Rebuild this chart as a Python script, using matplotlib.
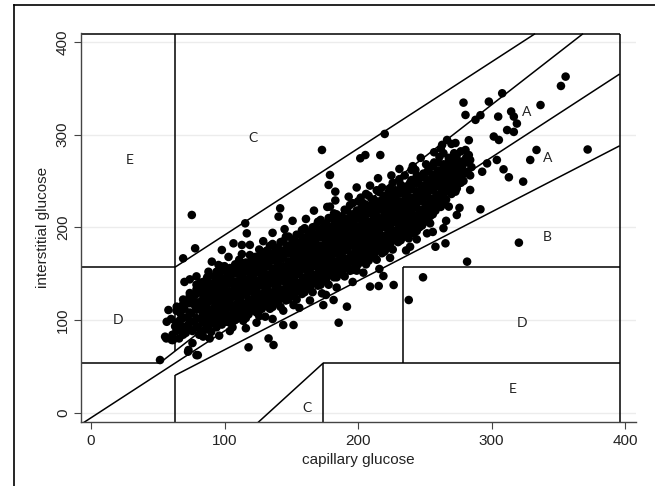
import matplotlib
matplotlib.use("Agg")
import matplotlib.pyplot as plt
from matplotlib.lines import Line2D

# ---------------- data ----------------
x_ticks = [0, 100, 200, 300, 400]
y_ticks = [0, 100, 200, 300, 400]
x_label = "capillary glucose"
y_label = "interstitial glucose"

# scattered points (capillary, interstitial)
outer_cap = [75.5, 173, 220, 279, 280.5, 298, 308, 291.7, 288, 305, 314.7, 316.7, 319, 311.7, 316.7,
             301.7, 305.5, 336.7, 355.5, 352, 333.7, 329, 323.7, 320.5, 281.7, 291.7, 313, 309, 304,
             296.7, 293, 284, 283, 280.5, 266.7, 284, 273, 268, 274, 264, 265.5, 258, 248.7, 238,
             226.7, 215.5, 209, 219, 199, 191.7, 185.5, 254, 251.7, 239, 241.7, 216.7, 201.7, 205.5,
             179, 178, 183, 179, 141.7, 140.5, 115.5, 116.7, 106.7, 113, 98, 78, 69, 90.5, 95.5, 74,
             81.7, 88, 58, 56.7, 55.5, 60.5, 51.7, 73, 79, 118, 133, 136.7, 144, 151.7, 151.7, 174,
             173, 181.7, 130.5, 64.2, 74, 66.7, 56.4, 61.4, 72.7, 80, 88.9, 372, 240, 262, 270]
outer_int = [213.3, 283.5, 300.8, 334.6, 321.3, 335.7, 344.7, 321, 316, 319.5, 325, 319.5, 312, 305, 303,
             298, 294.3, 332, 362.7, 352.6, 283.5, 272.7, 249.3, 183.4, 162.9, 219.4, 254, 262.6, 272.7,
             269, 260, 272.7, 294, 283.5, 294.3, 240.3, 238.5, 222.3, 213.3, 199, 182.7, 179, 146, 121.5,
             137.7, 136.6, 136, 147.4, 153.2, 114.3, 97, 204.3, 193.5, 179, 193.5, 278, 274.5, 278,
             256.5, 245.7, 238.5, 222.3, 220.5, 211.5, 204.3, 193.5, 182.7, 180.9, 175.5, 177.3, 166.5,
             162.9, 159.3, 143.8, 140.2, 140.2, 110.7, 98, 81.9, 78.3, 56.7, 67.5, 62, 70.4, 80, 72.9,
             94.5, 94.5, 116, 116, 128.7, 121.5, 103.5, 114.3, 121.5, 99.9, 80, 78.3, 65.7, 62, 80,
             284, 262, 285, 290]

# edge of the dense band (capillary, interstitial)
edge_cap = [70, 79, 88, 97, 103, 113, 119, 129, 136, 145, 151, 161, 167, 177, 183, 193, 199, 209, 215,
            225, 231, 241, 247, 257, 263, 273,
            76, 84, 96, 104, 116, 124, 136, 144, 156, 164, 176, 184, 196, 204, 216, 224, 236, 244,
            256, 266, 276]
edge_int = [141, 147, 152, 158, 168, 171, 181, 185, 194, 198, 207, 209, 218, 222, 229, 233, 243, 245,
            253, 256, 263, 266, 275, 281, 289, 291,
            75, 82, 83, 88, 91, 97, 101, 110, 113, 121, 127, 135, 141, 151, 155, 167, 175, 187,
            195, 207, 221]

# dense core of the cloud, first layer (capillary, interstitial)
core_cap = [61, 63, 60, 66, 68, 65, 67, 69, 71, 73, 72, 70, 74, 76, 77, 75, 78, 76, 79,
            81, 80, 82, 83, 81, 84, 82, 86, 85, 87, 86, 88, 85, 87, 90, 89, 91, 92, 90, 89, 91,
            94, 93, 95, 94, 96, 93, 95, 94, 98, 97, 99, 98, 96, 99, 97,
            102, 101, 103, 100, 102, 101, 103, 100, 106, 105, 107, 104, 106, 108, 105, 107,
            110, 109, 111, 108, 110, 112, 109, 111, 114, 113, 115, 112, 114, 116, 113, 115,
            118, 117, 119, 116, 118, 120, 117, 119, 122, 121, 123, 120, 122, 124, 121, 123,
            126, 125, 127, 124, 126, 128, 125, 127, 126, 130, 129, 131, 128, 130, 132, 129, 131,
            134, 133, 135, 132, 134, 136, 133, 135, 134, 138, 137, 139, 136, 138, 140, 137, 139,
            142, 141, 143, 140, 142, 144, 141, 143, 142, 146, 145, 147, 144, 146, 148, 145, 147, 146,
            150, 149, 151, 148, 150, 152, 149, 151, 154, 153, 155, 152, 154, 156, 153, 155, 154,
            158, 157, 159, 156, 158, 160, 157, 159, 158, 162, 161, 163, 160, 162, 164, 161, 163,
            166, 165, 167, 164, 166, 168, 165, 167, 166, 170, 169, 171, 168, 170, 172, 169, 171, 170,
            174, 173, 175, 172, 174, 176, 173, 175, 178, 177, 179, 176, 178, 180, 177, 179, 178,
            182, 181, 183, 180, 182, 184, 181, 183, 182, 186, 185, 187, 184, 186, 188, 185, 187,
            190, 189, 191, 188, 190, 192, 189, 191, 190, 194, 193, 195, 192, 194, 196, 193, 195, 194,
            198, 197, 199, 196, 198, 200, 197, 199, 202, 201, 203, 200, 202, 204, 201, 203, 202,
            206, 205, 207, 204, 206, 208, 205, 207, 206, 210, 209, 211, 208, 210, 212, 209, 211,
            214, 213, 215, 212, 214, 216, 213, 215, 214, 218, 217, 219, 216, 218, 220, 217, 219, 218,
            222, 221, 223, 220, 222, 224, 221, 223, 226, 225, 227, 224, 226, 228, 225, 227, 226,
            230, 229, 231, 228, 230, 232, 229, 231, 234, 233, 235, 232, 234, 236, 233, 235,
            238, 237, 239, 236, 238, 240, 237, 239, 242, 241, 243, 240, 242, 244, 241, 243,
            246, 245, 247, 244, 246, 248, 245, 250, 249, 251, 248, 250, 252, 249, 251,
            254, 253, 255, 252, 254, 256, 253, 258, 257, 259, 256, 258, 260, 257,
            262, 261, 263, 260, 262, 264, 261, 266, 265, 267, 264, 266, 268,
            270, 269, 271, 268, 270, 272, 274, 275, 273, 276, 274, 279, 280, 278, 281, 284, 285, 283]
core_int = [84, 93, 101, 80, 89, 97, 107, 117, 86, 95, 103, 112, 126, 88, 98, 107, 115, 123, 133,
            84, 93, 101, 110, 119, 128, 137, 90, 99, 107, 116, 124, 133, 146, 87, 96, 104, 113, 121, 130, 139,
            92, 101, 109, 117, 126, 134, 143, 152, 95, 104, 112, 120, 129, 137, 146,
            98, 107, 115, 123, 131, 140, 149, 158, 92, 101, 110, 118, 126, 135, 143, 152,
            104, 112, 121, 129, 137, 146, 155, 165, 99, 108, 116, 124, 133, 141, 150, 158,
            106, 114, 122, 131, 139, 148, 156, 170, 110, 118, 127, 135, 144, 152, 161, 168,
            104, 113, 121, 130, 138, 147, 155, 164, 176, 116, 124, 133, 141, 150, 158, 167, 174,
            112, 120, 128, 137, 145, 154, 162, 171, 180, 118, 126, 135, 143, 151, 160, 168, 177,
            114, 123, 131, 140, 148, 156, 165, 173, 184, 121, 129, 138, 146, 154, 163, 171, 180, 190,
            126, 134, 142, 151, 159, 168, 176, 185, 122, 131, 139, 148, 156, 165, 173, 182, 192,
            128, 136, 145, 153, 162, 170, 179, 188, 197, 134, 142, 151, 159, 168, 176, 185, 194,
            130, 139, 147, 156, 164, 173, 181, 190, 200, 137, 145, 154, 162, 171, 179, 188, 196, 206,
            142, 151, 159, 168, 176, 185, 193, 202, 138, 147, 155, 164, 172, 181, 189, 198, 210,
            146, 154, 163, 171, 180, 188, 197, 205, 215, 150, 159, 167, 176, 184, 193, 201, 210,
            147, 156, 164, 173, 181, 190, 198, 207, 219, 153, 162, 170, 179, 187, 196, 204, 213, 224,
            158, 167, 175, 184, 192, 201, 209, 218, 163, 171, 180, 188, 197, 205, 214, 222, 232,
            160, 169, 177, 186, 194, 203, 211, 220, 236, 168, 176, 185, 193, 202, 210, 219, 227,
            165, 174, 182, 191, 199, 208, 216, 225, 240, 172, 181, 189, 198, 206, 215, 223, 232, 243,
            178, 187, 195, 204, 212, 221, 229, 238, 176, 185, 193, 202, 210, 219, 227, 236, 248,
            184, 192, 201, 209, 218, 226, 235, 252, 190, 198, 207, 215, 224, 232, 241, 256,
            188, 197, 205, 214, 222, 231, 239, 248, 195, 204, 212, 221, 229, 238, 246, 262,
            200, 209, 217, 226, 234, 243, 251, 206, 215, 223, 232, 240, 249, 258, 268,
            212, 221, 229, 238, 246, 255, 263, 218, 227, 235, 244, 252, 261, 270,
            222, 231, 240, 248, 257, 265, 276, 230, 238, 247, 255, 264, 272,
            236, 245, 253, 262, 270, 280, 242, 252, 260, 268, 278, 250, 258, 266, 275, 256, 265, 278]

# dense core, second layer: capillary value of each column and its interstitial values
core2_cols = [64, 69, 74, 79, 84, 88, 92, 96, 100, 104, 108, 112, 116, 120, 124, 128, 132, 136,
              140, 144, 148, 152, 156, 160, 164, 168, 172, 176, 180, 184, 188, 192, 196, 200, 204,
              208, 212, 216, 220, 224, 228, 232, 236, 240, 244, 248, 252, 256, 260, 264, 268, 272,
              277, 282]
core2_rows = [
    [88, 97, 110],
    [84, 93, 102, 112, 122],
    [90, 99, 108, 118, 129],
    [92, 102, 111, 119, 128, 138],
    [88, 97, 106, 114, 123, 132, 141],
    [94, 103, 111, 120, 128, 137],
    [96, 105, 113, 122, 130, 139, 147],
    [99, 108, 116, 124, 133, 141, 150],
    [102, 111, 119, 127, 135, 144, 153],
    [97, 105, 114, 122, 130, 139, 147, 156],
    [100, 108, 116, 125, 133, 141, 150, 160],
    [104, 112, 120, 128, 137, 145, 154, 162],
    [102, 110, 118, 127, 135, 143, 152, 162],
    [114, 122, 131, 139, 148, 156, 164],
    [108, 117, 125, 134, 142, 151, 159, 168],
    [112, 120, 128, 137, 145, 154, 162, 170],
    [116, 124, 132, 141, 149, 158, 166, 175],
    [114, 122, 130, 139, 147, 155, 164, 172, 182],
    [119, 127, 135, 144, 152, 160, 169, 178],
    [125, 133, 142, 150, 158, 167, 175, 185],
    [122, 130, 138, 146, 155, 163, 172, 180, 190],
    [127, 135, 144, 152, 160, 169, 177, 187],
    [132, 140, 149, 157, 166, 174, 183, 192],
    [130, 138, 146, 155, 163, 172, 180, 189, 199],
    [135, 143, 152, 160, 169, 177, 186, 195],
    [141, 149, 158, 166, 175, 183, 192, 201],
    [138, 146, 155, 163, 172, 180, 189, 198, 208],
    [143, 151, 160, 168, 177, 185, 194, 204],
    [150, 158, 167, 175, 184, 192, 201, 210],
    [146, 155, 163, 172, 180, 189, 197, 206, 214],
    [152, 160, 169, 177, 186, 194, 203, 212],
    [158, 166, 175, 183, 192, 200, 209, 218],
    [154, 163, 171, 180, 188, 197, 205, 214, 226],
    [160, 168, 176, 184, 193, 201, 210, 218, 228],
    [165, 173, 182, 190, 199, 207, 216, 226],
    [164, 172, 181, 189, 198, 206, 215, 223, 234],
    [170, 178, 187, 195, 204, 212, 221, 230],
    [176, 185, 193, 202, 210, 219, 228, 238],
    [174, 183, 191, 200, 208, 217, 225, 234],
    [181, 189, 198, 206, 215, 223, 232, 242],
    [188, 196, 205, 213, 222, 230, 240],
    [186, 194, 203, 211, 220, 228, 237, 246],
    [193, 201, 210, 218, 227, 235, 244],
    [198, 207, 215, 224, 232, 241, 251],
    [196, 204, 213, 221, 230, 238, 247, 256],
    [202, 211, 219, 228, 236, 245, 254],
    [208, 217, 225, 234, 242, 251, 260],
    [214, 223, 231, 240, 248, 257, 266],
    [226, 235, 244, 252, 261, 270],
    [226, 234, 243, 251, 260, 268, 280],
    [240, 249, 257, 266, 275],
    [246, 256, 264, 272],
    [248, 256, 263, 271, 282],
    [260, 270],
]

# error-grid segments in axis units: (x0, x1), (y0, y1)
grid_x = [(-7.5, 396), (-7.5, 51.5), (51.5, 368.5), (-7.5, 63), (63, 63), (63, 332.6),
          (63, 63), (63, 396), (123.6, 174), (174, 174), (174, 396), (234, 234), (234, 396),
          (396, 396), (-7.5, 396)]
grid_y = [(-12.7, 365.5), (53.5, 53.5), (53.5, 409), (157, 157), (66.7, 409), (157, 409),
          (-12.7, 40.2), (40.2, 288), (-12.7, 53.5), (-12.7, 53.5), (53.5, 53.5), (53.5, 157),
          (157, 157), (-12.7, 409), (409, 409)]

zone_text = ["E", "C", "A", "A", "B", "D", "D", "E", "C"]
zone_x = [29, 121, 326, 342, 342, 20, 323, 316, 162]
zone_y = [273, 296, 325, 275, 190, 100, 97, 25, 5]

# ---------------- drawing ----------------
core2_cap = [c for c, ys in zip(core2_cols, core2_rows) for _ in ys]
core2_int = [y for ys in core2_rows for y in ys]

W, H = 655, 486
fig = plt.figure(figsize=(W / 100, H / 100), dpi=100)
ax = fig.add_axes([81 / W, (486 - 421.8) / H, 554.7 / W, 389 / H])
ax.set_xlim(-7.5, 408)
ax.set_ylim(-10, 410)

for xs, ys in zip(grid_x, grid_y):
    ax.plot(xs, ys, color="black", lw=1.1, zorder=2, solid_capstyle="butt")

all_cap = core_cap + core2_cap + edge_cap + outer_cap
all_int = core_int + core2_int + edge_int + outer_int
ax.scatter(all_cap, all_int, s=38, color="black", edgecolors="none", zorder=3)

for t, x, y in zip(zone_text, zone_x, zone_y):
    ax.text(x, y, t, fontsize=10, family=["Lato", "DejaVu Sans"], color="#222222",
            ha="center", va="center", zorder=4)

ax.set_xticks(x_ticks)
ax.set_yticks(y_ticks)
ax.yaxis.grid(True, color="#ececec", lw=1.0, zorder=0)
ax.set_axisbelow(True)
for s in ["top", "right"]:
    ax.spines[s].set_visible(False)
for s in ["left", "bottom"]:
    ax.spines[s].set_color("#444444")
    ax.spines[s].set_linewidth(1.0)
ax.tick_params(axis="both", length=5, width=0.8, color="#444444", labelsize=11,
               labelcolor="#222222")
for lab in ax.get_xticklabels() + ax.get_yticklabels():
    lab.set_family(["Liberation Sans", "DejaVu Sans"])
ax.tick_params(axis="y", labelrotation=90, pad=3)
for lab in ax.get_yticklabels():
    lab.set_va("center")
ax.set_xlabel(x_label, fontsize=11, family=["Liberation Sans", "DejaVu Sans"],
              color="#222222", labelpad=4)
ax.set_ylabel(y_label, fontsize=11, family=["Liberation Sans", "DejaVu Sans"],
              color="#222222", labelpad=4)

# outer frame of the figure
fig.add_artist(Line2D([14 / W, 1.0], [1 - 5 / H, 1 - 5 / H], transform=fig.transFigure,
                      color="black", lw=1.2))
fig.add_artist(Line2D([14 / W, 14 / W], [0.0, 1 - 5 / H], transform=fig.transFigure,
                      color="black", lw=1.2))

fig.savefig("out.png", dpi=100)
